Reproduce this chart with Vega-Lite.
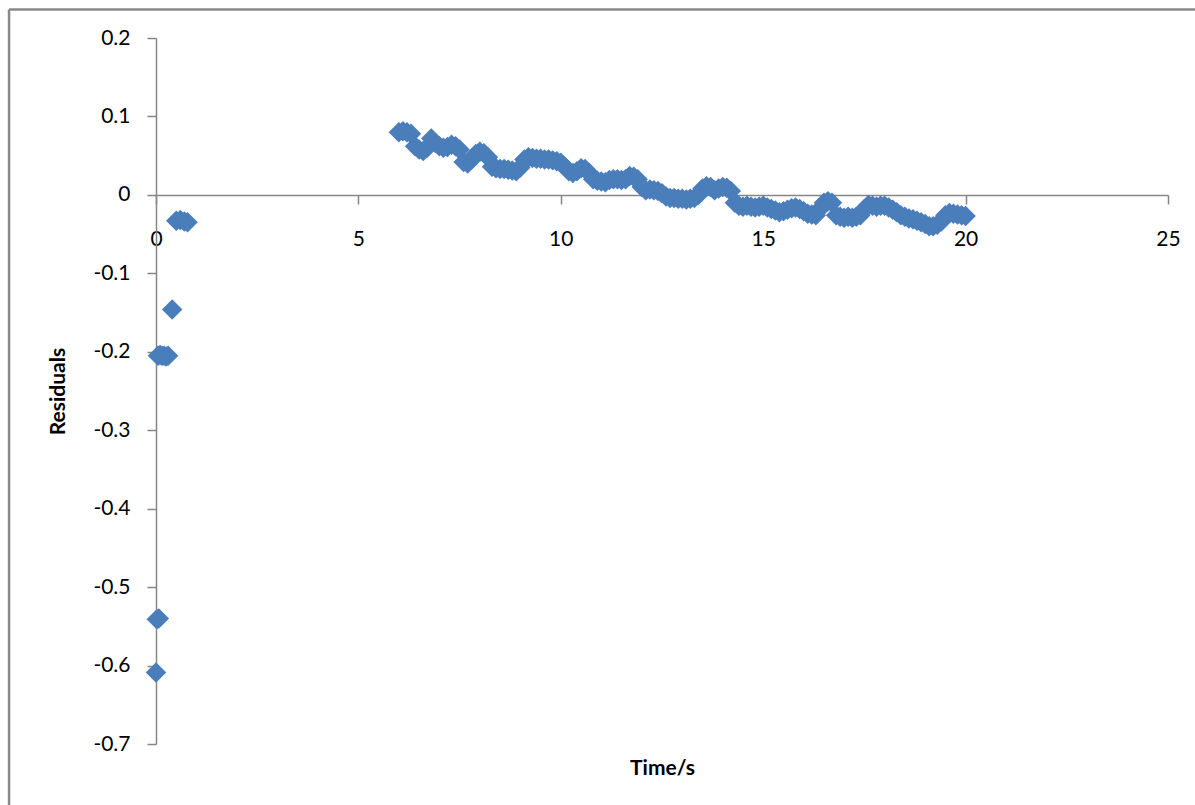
{
  "$schema": "https://vega.github.io/schema/vega-lite/v6.json",
  "width": 1012,
  "height": 706,
  "autosize": {"type": "none"},
  "padding": {"left": 156, "top": 38, "right": 27, "bottom": 61},
  "background": "white",
  "config": {"view": {"stroke": null}, "font": "Lato"},
  "layer": [
    {
      "data": {
        "values": [
          {"t": 0.0, "r": -0.609},
          {"t": 0.02, "r": -0.541},
          {"t": 0.07, "r": -0.540},
          {"t": 0.05, "r": -0.205},
          {"t": 0.1, "r": -0.204},
          {"t": 0.15, "r": -0.205},
          {"t": 0.2, "r": -0.205},
          {"t": 0.25, "r": -0.206},
          {"t": 0.3, "r": -0.205},
          {"t": 0.4, "r": -0.146},
          {"t": 0.5, "r": -0.033},
          {"t": 0.6, "r": -0.032},
          {"t": 0.7, "r": -0.034},
          {"t": 0.78, "r": -0.035},
          {"t": 6.0, "r": 0.080},
          {"t": 6.1, "r": 0.081},
          {"t": 6.2, "r": 0.080},
          {"t": 6.3, "r": 0.078},
          {"t": 6.4, "r": 0.062},
          {"t": 6.5, "r": 0.058},
          {"t": 6.6, "r": 0.056},
          {"t": 6.7, "r": 0.060},
          {"t": 6.8, "r": 0.072},
          {"t": 6.9, "r": 0.066},
          {"t": 7.0, "r": 0.062},
          {"t": 7.1, "r": 0.060},
          {"t": 7.2, "r": 0.061},
          {"t": 7.3, "r": 0.064},
          {"t": 7.4, "r": 0.062},
          {"t": 7.5, "r": 0.058},
          {"t": 7.6, "r": 0.042},
          {"t": 7.7, "r": 0.040},
          {"t": 7.8, "r": 0.045},
          {"t": 7.9, "r": 0.052},
          {"t": 8.0, "r": 0.055},
          {"t": 8.1, "r": 0.053},
          {"t": 8.2, "r": 0.048},
          {"t": 8.3, "r": 0.036},
          {"t": 8.4, "r": 0.034},
          {"t": 8.5, "r": 0.033},
          {"t": 8.6, "r": 0.033},
          {"t": 8.7, "r": 0.032},
          {"t": 8.8, "r": 0.031},
          {"t": 8.9, "r": 0.030},
          {"t": 9.0, "r": 0.035},
          {"t": 9.1, "r": 0.045},
          {"t": 9.2, "r": 0.048},
          {"t": 9.3, "r": 0.047},
          {"t": 9.4, "r": 0.046},
          {"t": 9.5, "r": 0.046},
          {"t": 9.6, "r": 0.045},
          {"t": 9.7, "r": 0.045},
          {"t": 9.8, "r": 0.044},
          {"t": 9.9, "r": 0.043},
          {"t": 10.0, "r": 0.041},
          {"t": 10.1, "r": 0.036},
          {"t": 10.2, "r": 0.030},
          {"t": 10.3, "r": 0.028},
          {"t": 10.4, "r": 0.030},
          {"t": 10.5, "r": 0.034},
          {"t": 10.6, "r": 0.033},
          {"t": 10.7, "r": 0.028},
          {"t": 10.8, "r": 0.020},
          {"t": 10.9, "r": 0.018},
          {"t": 11.0, "r": 0.017},
          {"t": 11.1, "r": 0.016},
          {"t": 11.2, "r": 0.019},
          {"t": 11.3, "r": 0.020},
          {"t": 11.4, "r": 0.020},
          {"t": 11.5, "r": 0.019},
          {"t": 11.6, "r": 0.020},
          {"t": 11.7, "r": 0.024},
          {"t": 11.8, "r": 0.023},
          {"t": 11.9, "r": 0.020},
          {"t": 12.0, "r": 0.010},
          {"t": 12.1, "r": 0.006},
          {"t": 12.2, "r": 0.007},
          {"t": 12.3, "r": 0.006},
          {"t": 12.4, "r": 0.005},
          {"t": 12.5, "r": 0.002},
          {"t": 12.6, "r": -0.002},
          {"t": 12.7, "r": -0.004},
          {"t": 12.8, "r": -0.004},
          {"t": 12.9, "r": -0.005},
          {"t": 13.0, "r": -0.005},
          {"t": 13.1, "r": -0.006},
          {"t": 13.2, "r": -0.005},
          {"t": 13.3, "r": -0.004},
          {"t": 13.4, "r": 0.000},
          {"t": 13.5, "r": 0.008},
          {"t": 13.6, "r": 0.011},
          {"t": 13.7, "r": 0.010},
          {"t": 13.8, "r": 0.006},
          {"t": 13.9, "r": 0.008},
          {"t": 14.0, "r": 0.010},
          {"t": 14.1, "r": 0.009},
          {"t": 14.2, "r": 0.005},
          {"t": 14.3, "r": -0.010},
          {"t": 14.4, "r": -0.014},
          {"t": 14.5, "r": -0.015},
          {"t": 14.6, "r": -0.014},
          {"t": 14.7, "r": -0.015},
          {"t": 14.8, "r": -0.016},
          {"t": 14.9, "r": -0.015},
          {"t": 15.0, "r": -0.014},
          {"t": 15.1, "r": -0.016},
          {"t": 15.2, "r": -0.018},
          {"t": 15.3, "r": -0.020},
          {"t": 15.4, "r": -0.022},
          {"t": 15.5, "r": -0.021},
          {"t": 15.6, "r": -0.019},
          {"t": 15.7, "r": -0.017},
          {"t": 15.8, "r": -0.016},
          {"t": 15.9, "r": -0.018},
          {"t": 16.0, "r": -0.021},
          {"t": 16.1, "r": -0.024},
          {"t": 16.2, "r": -0.025},
          {"t": 16.3, "r": -0.026},
          {"t": 16.4, "r": -0.018},
          {"t": 16.5, "r": -0.010},
          {"t": 16.6, "r": -0.008},
          {"t": 16.7, "r": -0.010},
          {"t": 16.8, "r": -0.026},
          {"t": 16.9, "r": -0.028},
          {"t": 17.0, "r": -0.029},
          {"t": 17.1, "r": -0.028},
          {"t": 17.2, "r": -0.029},
          {"t": 17.3, "r": -0.028},
          {"t": 17.4, "r": -0.026},
          {"t": 17.5, "r": -0.018},
          {"t": 17.6, "r": -0.013},
          {"t": 17.7, "r": -0.014},
          {"t": 17.8, "r": -0.015},
          {"t": 17.9, "r": -0.014},
          {"t": 18.0, "r": -0.014},
          {"t": 18.1, "r": -0.016},
          {"t": 18.2, "r": -0.019},
          {"t": 18.3, "r": -0.022},
          {"t": 18.4, "r": -0.026},
          {"t": 18.5, "r": -0.028},
          {"t": 18.6, "r": -0.030},
          {"t": 18.7, "r": -0.031},
          {"t": 18.8, "r": -0.033},
          {"t": 18.9, "r": -0.035},
          {"t": 19.0, "r": -0.037},
          {"t": 19.1, "r": -0.040},
          {"t": 19.2, "r": -0.040},
          {"t": 19.3, "r": -0.038},
          {"t": 19.4, "r": -0.034},
          {"t": 19.5, "r": -0.026},
          {"t": 19.6, "r": -0.023},
          {"t": 19.7, "r": -0.024},
          {"t": 19.8, "r": -0.025},
          {"t": 19.9, "r": -0.026},
          {"t": 20.0, "r": -0.027}
        ]
      },
      "mark": {"type": "point", "shape": "diamond", "filled": true, "size": 420, "color": "#4a7ebb", "opacity": 1, "strokeWidth": 0, "clip": false},
      "encoding": {
        "x": {
          "field": "t",
          "type": "quantitative",
          "scale": {"domain": [0, 25], "nice": false, "zero": false},
          "axis": {
            "values": [0, 5, 10, 15, 20, 25],
            "offset": -549,
            "grid": false,
            "title": "Time/s",
            "titleY": 579,
            "titleBaseline": "alphabetic",
            "titleFont": "Lato",
            "titleFontWeight": "bold",
            "titleFontSize": 21,
            "titleColor": "#000000",
            "labelFont": "Lato",
            "labelFontSize": 21,
            "labelColor": "#000000",
            "labelPadding": 24,
            "labelFlush": false,
            "labelOverlap": false,
            "tickSize": 9,
            "tickColor": "#868686",
            "tickWidth": 1.5,
            "domainColor": "#868686",
            "domainWidth": 1.5
          }
        },
        "y": {
          "field": "r",
          "type": "quantitative",
          "scale": {"domain": [-0.7, 0.2], "nice": false, "zero": false},
          "axis": {
            "values": [-0.7, -0.6, -0.5, -0.4, -0.3, -0.2, -0.1, 0, 0.1, 0.2],
            "labelExpr": "replace(format(datum.value, '.1~f'), '−', '-')",
            "grid": false,
            "title": "Residuals",
            "titleFont": "Lato",
            "titleFontWeight": "bold",
            "titleFontSize": 21,
            "titleColor": "#000000",
            "titlePadding": 24,
            "labelFont": "Lato",
            "labelFontSize": 21,
            "labelColor": "#000000",
            "labelPadding": 17,
            "labelFlush": false,
            "labelOverlap": false,
            "tickSize": 9,
            "tickColor": "#868686",
            "tickWidth": 1.5,
            "domainColor": "#868686",
            "domainWidth": 1.5
          }
        }
      }
    },
    {
      "data": {"values": [{}]},
      "mark": {"type": "rule", "color": "#888888", "strokeWidth": 2.5, "clip": false},
      "encoding": {
        "x": {"datum": -3.63, "type": "quantitative"},
        "y": {"datum": 0.2363, "type": "quantitative"},
        "y2": {"datum": -0.95}
      }
    },
    {
      "data": {"values": [{}]},
      "mark": {"type": "rule", "color": "#888888", "strokeWidth": 2.5, "clip": false},
      "encoding": {
        "x": {"datum": -3.63, "type": "quantitative"},
        "x2": {"datum": 26},
        "y": {"datum": 0.2363, "type": "quantitative"}
      }
    }
  ]
}
